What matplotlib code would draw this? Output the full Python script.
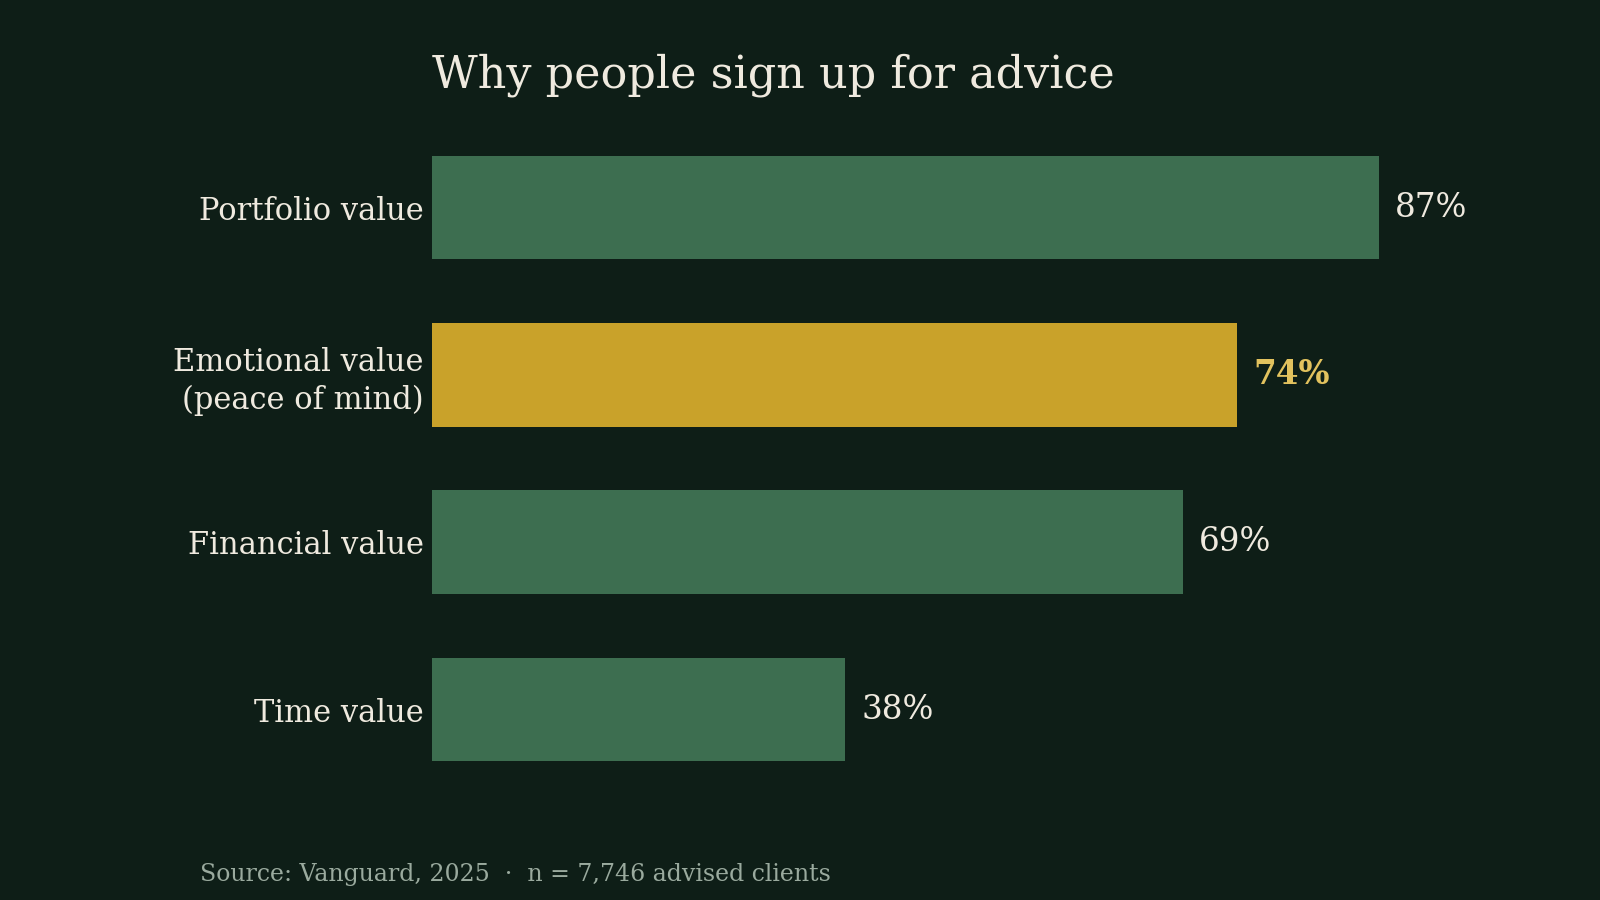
import matplotlib
matplotlib.use("Agg")
import matplotlib.pyplot as plt

categories = ["Portfolio value", "Emotional value\n(peace of mind)", "Financial value", "Time value"]
values = [87, 74, 69, 38]
highlight = "Emotional value\n(peace of mind)"

bg = "#0e1e17"
green = "#3d6e50"
gold = "#c9a22a"
gold_text = "#e2c25e"
cream = "#efeadf"

plt.rcParams['font.family'] = ['DejaVu Serif']

fig = plt.figure(figsize=(16, 9), dpi=100, facecolor=bg)
ax = fig.add_axes([0.270, 0.100, 0.680, 0.781], facecolor=bg)

colors = [gold if c == highlight else green for c in categories]
ypos = list(range(len(categories)))
ax.barh(ypos, values, height=0.62, color=colors)

for y, v, c in zip(ypos, values, categories):
    if c == highlight:
        ax.text(v + 1.5, y, f"{v}%", va="center", ha="left", fontsize=23.5,
                color=gold_text, fontweight="bold")
    else:
        ax.text(v + 1.5, y, f"{v}%", va="center", ha="left", fontsize=23.5, color=cream)

ax.set_xlim(0, 100)
ax.set_ylim(3.6, -0.6)
ax.set_yticks(ypos)
ax.set_yticklabels(categories, fontsize=22, color=cream, linespacing=1.25)
ax.tick_params(axis="y", length=0, pad=6)
ax.set_xticks([])
for s in ax.spines.values():
    s.set_visible(False)

fig.text(0.270, 0.917, "Why people sign up for advice", fontsize=32, color=cream,
         ha="left", va="center")
fig.text(0.125, 0.028, "Source: Vanguard, 2025  \u00b7  n = 7,746 advised clients",
         fontsize=17, color="#9aaa9e", ha="left", va="center")

fig.savefig("out.png", facecolor=bg)
